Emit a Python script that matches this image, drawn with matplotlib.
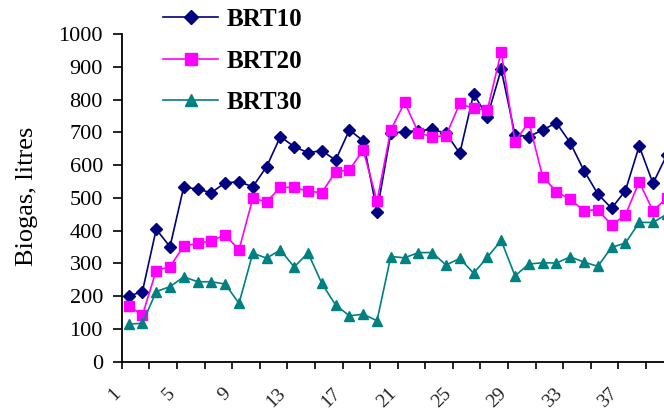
import matplotlib
matplotlib.use('Agg')
import matplotlib.pyplot as plt
import matplotlib.transforms as mtransforms
import numpy as np

days = list(range(1, 41))

brt10 = [200, 214, 404, 351, 534, 526, 516, 546, 549, 534,
         595, 687, 656, 638, 644, 615, 707, 674, 458, 697,
         702, 705, 709, 697, 636, 817, 748, 892, 692, 687,
         707, 729, 668, 583, 512, 468, 522, 658, 544, 631]

brt20 = [170, 142, 278, 290, 353, 361, 369, 387, 341, 499,
         488, 532, 532, 520, 516, 580, 585, 647, 490, 707,
         791, 699, 686, 690, 788, 773, 768, 946, 671, 732,
         565, 519, 495, 461, 464, 417, 448, 549, 460, 500]

brt30 = [115, 117, 214, 229, 259, 244, 244, 237, 178, 331,
         316, 341, 289, 332, 239, 173, 140, 145, 125, 321,
         317, 333, 333, 295, 315, 270, 319, 370, 262, 298,
         302, 301, 320, 304, 291, 349, 362, 425, 425, 450]

xlabels = [1, 5, 9, 13, 17, 21, 25, 29, 33, 37]
yticks = list(range(0, 1001, 100))

plt.rcParams['font.family'] = ['Liberation Serif', 'DejaVu Serif']

W, H = 664, 412
fig = plt.figure(figsize=(W / 100, H / 100), dpi=100)

# axes: y axis at x=121.7px, zero at 361.7px, 1000 at 34px, 13.8px per day
left, bottom, top = 121.7, 361.7, 34.0
cat_w = 13.8
ax = fig.add_axes([left / W, (H - bottom) / H, len(days) * cat_w / W, (bottom - top) / H])

ax.plot(days, brt10, color='#000080', marker='D', markersize=6, lw=1.2, label='BRT10')
ax.plot(days, brt20, color='#FF00FF', marker='s', markersize=7.5, lw=1.2, label='BRT20')
ax.plot(days, brt30, color='#008080', marker='^', markersize=7.5, lw=1.2, label='BRT30')

ax.set_xlim(0.5, len(days) + 0.5)
ax.set_ylim(0, 1000)

for s in ['top', 'right']:
    ax.spines[s].set_visible(False)
for s in ['left', 'bottom']:
    ax.spines[s].set_linewidth(1.3)

ax.set_yticks(yticks)
ax.tick_params(axis='y', direction='out', length=6.5, width=1.2, pad=7, labelsize=16)

ax.set_xticks(xlabels)
ax.set_xticklabels([str(v) for v in xlabels], rotation=45, ha='right', va='center',
                   rotation_mode='anchor', fontsize=14, color='#222222')
ax.set_xticks(np.arange(0.5, len(days) + 1, 2), minor=True)
ax.tick_params(axis='x', which='major', length=0, pad=21)
ax.tick_params(axis='x', which='minor', direction='out', length=5, width=1.2)
offset = mtransforms.ScaledTranslation(-11 / 100, 0, fig.dpi_scale_trans)
for lbl in ax.get_xticklabels():
    lbl.set_transform(lbl.get_transform() + offset)

fig.text(27 / W, (H - 196) / H, 'Biogas, litres', rotation=90, ha='center', va='center', fontsize=19)

ax.legend(loc='upper left', bbox_to_anchor=(163 / W, (H - 8) / H), bbox_transform=fig.transFigure,
          frameon=False, prop={'weight': 'bold', 'size': 18}, borderpad=0, borderaxespad=0,
          handlelength=2.2, handletextpad=0.35, labelspacing=0.74, numpoints=1,
          markerscale=1.2)

fig.savefig('out.png', dpi=100)
